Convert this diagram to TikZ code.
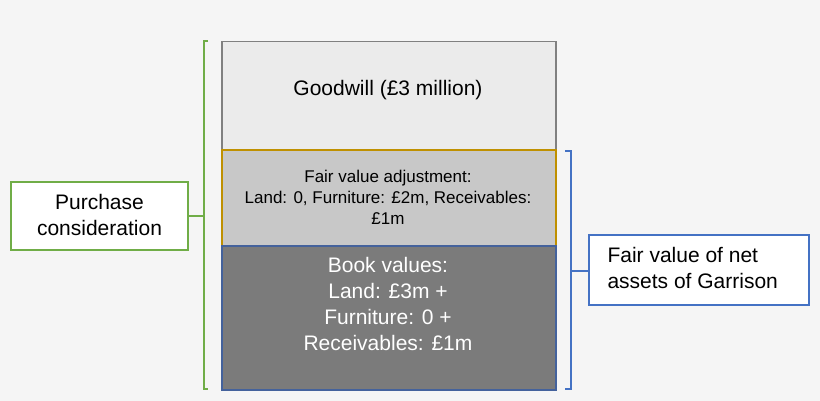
\documentclass[tikz,border=0pt]{standalone}
\usepackage{fontspec}
\setmainfont{Liberation Sans}
\definecolor{bg}{HTML}{F5F5F5}
\definecolor{gwfill}{HTML}{EBEBEB}
\definecolor{gwline}{HTML}{808080}
\definecolor{fvfill}{HTML}{C8C8C8}
\definecolor{fvline}{HTML}{BF9000}
\definecolor{bvfill}{HTML}{7B7B7B}
\definecolor{bvline}{HTML}{44629C}
\definecolor{pgreen}{HTML}{70AD47}
\definecolor{pblue}{HTML}{4472C4}
\tikzset{
  blk/.style={draw, line width=1.5pt, minimum width=334pt, inner sep=0pt, anchor=north west},
  lbl/.style={draw, fill=white, line width=1.5pt, inner sep=0pt, anchor=center},
  brk/.style={line width=1.8pt},
  big/.style={font=\fontsize{21}{26}\selectfont},
  small/.style={font=\fontsize{17}{21}\selectfont}
}
\begin{document}
\begin{tikzpicture}[x=1pt,y=-1pt]
\useasboundingbox[fill=bg] (0,0) rectangle (820,401);
% stacked blocks
\node[blk, fill=gwfill, draw=gwline, minimum height=109pt] (gw) at (221,41) {};
\node[blk, fill=fvfill, draw=fvline, minimum height=95pt] (fv) at (221,150) {};
\node[blk, fill=bvfill, draw=bvline, minimum height=144pt] (bv) at (221,245) {};
\draw[fvline, line width=1.5pt] (fv.north west) -- (fv.north east);
% texts (anchor=base is the baseline of the last line)
\node[big, anchor=base] (gwt) at (388,96) {Goodwill (£3 million)};
\node[small, align=center, anchor=base] (fvt) at (388,225) {Fair value adjustment:\\Land: 0, Furniture: £2m, Receivables:\\£1m};
\node[big, align=center, anchor=base, text=white] (bvt) at (388,350) {Book values:\\Land: £3m +\\Furniture: 0 +\\Receivables: £1m};
% labels
\node[lbl, draw=pgreen, minimum width=177pt, minimum height=68pt] (pc) at (99.5,216) {};
\node[big, align=center, anchor=base] (pct) at (99.5,236) {Purchase\\consideration};
\node[lbl, draw=pblue, minimum width=220pt, minimum height=70pt] (fa) at (699,270) {};
\node[big, align=left, anchor=base west] (fat) at (604,288) {Fair value of net\\assets of Garrison};
% brackets
\coordinate (gtop) at (208,41);
\coordinate (gbot) at (208,389);
\coordinate (gmid) at (204,216);
\draw[brk, pgreen] (gtop) -- (204,41) -- (204,389) -- (gbot);
\draw[brk, pgreen] (gmid) -- (pc.east);
\coordinate (btop) at (565,151);
\coordinate (bbot) at (565,389);
\coordinate (bmid) at (571,271);
\draw[brk, pblue] (btop) -- (571,151) -- (571,389) -- (bbot);
\draw[brk, pblue] (bmid) -- (fa.west |- bmid);
\end{tikzpicture}
\end{document}
